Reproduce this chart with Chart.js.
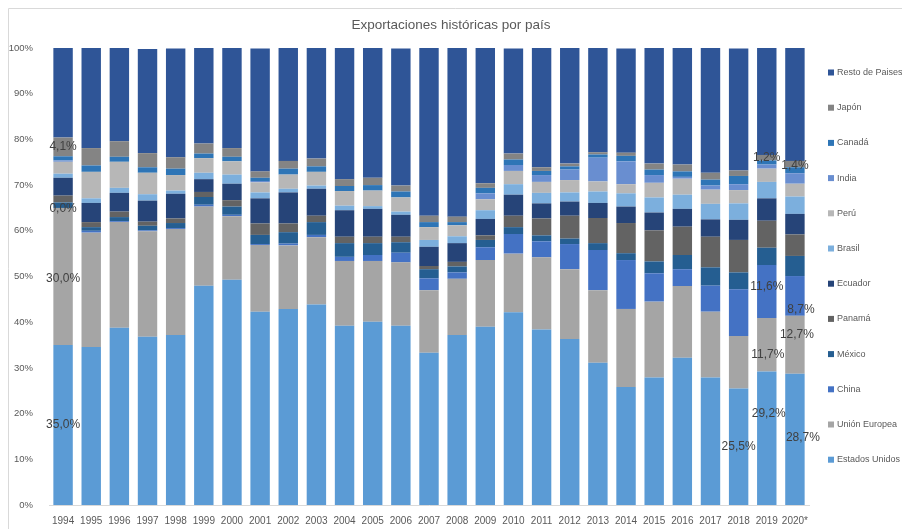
<!DOCTYPE html>
<html lang="es">
<head>
<meta charset="utf-8">
<title>Exportaciones históricas por país</title>
<script src="https://cdn.jsdelivr.net/npm/chart.js@4.4.0/dist/chart.umd.min.js"></script>
<style>
  body { margin: 0; background: #ffffff; }
  canvas { display: block; }
</style>
</head>
<body>
<canvas id="grafico" width="902" height="529"></canvas>
<script>
// años del eje x
const anios = ['1994', '1995', '1996', '1997', '1998', '1999', '2000', '2001', '2002', '2003',
  '2004', '2005', '2006', '2007', '2008', '2009', '2010', '2011', '2012', '2013',
  '2014', '2015', '2016', '2017', '2018', '2019', '2020*'];

// participación (%) de cada destino por año
const estadosUnidos = [35.0, 34.6, 38.8, 36.8, 37.2, 48.0, 49.3, 42.3, 42.9, 43.9, 39.2, 40.1, 39.2, 33.3, 37.2, 39.0, 42.2, 38.4, 36.3, 31.1, 25.8, 27.9, 32.2, 27.9, 25.5, 29.2, 28.7];
const unionEuropea = [30.0, 25.0, 23.1, 23.1, 23.2, 17.3, 13.9, 14.6, 13.9, 14.7, 14.2, 13.3, 13.9, 13.7, 12.3, 14.6, 12.8, 15.8, 15.3, 15.9, 17.1, 16.6, 15.7, 14.4, 11.5, 11.7, 12.7];
const china = [0.0, 0.4, 0.2, 0.2, 0.2, 0.4, 0.3, 0.2, 0.4, 0.5, 0.9, 1.3, 2.1, 2.6, 1.4, 2.8, 4.3, 3.5, 5.5, 8.8, 10.7, 6.2, 3.7, 5.7, 10.2, 11.6, 8.7];
const mexico = [1.2, 0.8, 0.9, 1.0, 1.1, 1.7, 1.8, 2.0, 2.5, 2.8, 3.0, 2.6, 2.3, 2.0, 1.3, 1.6, 1.5, 1.3, 1.2, 1.5, 1.5, 2.6, 3.1, 4.0, 3.7, 3.8, 4.4];
const panama = [1.5, 1.1, 1.2, 0.9, 1.0, 1.1, 1.4, 2.5, 1.9, 1.4, 1.4, 1.4, 1.2, 0.7, 1.0, 1.0, 2.5, 3.7, 5.0, 5.5, 6.6, 6.8, 6.2, 6.7, 7.1, 5.9, 4.7];
const ecuador = [3.9, 4.2, 4.1, 4.6, 5.4, 2.8, 3.6, 5.5, 6.8, 5.9, 5.8, 6.1, 4.8, 4.2, 4.1, 3.6, 4.6, 3.3, 3.1, 3.3, 3.6, 3.9, 3.9, 3.8, 4.4, 4.9, 4.5];
const brasil = [0.9, 1.0, 1.1, 1.4, 0.7, 1.4, 2.0, 1.3, 0.8, 0.7, 1.0, 0.6, 0.7, 1.5, 1.5, 1.9, 2.3, 2.3, 2.0, 2.5, 2.9, 3.3, 3.1, 3.4, 3.6, 3.6, 3.8];
const peru = [2.6, 5.8, 5.7, 4.7, 3.4, 3.2, 2.9, 2.2, 3.1, 3.0, 3.2, 3.4, 3.1, 2.8, 2.4, 2.4, 2.9, 2.4, 2.7, 2.2, 2.0, 3.2, 3.5, 3.1, 2.9, 2.9, 2.8];
const india = [0.3, 0.0, 0.0, 0.0, 0.0, 0.0, 0.0, 0.3, 0.0, 0.0, 0.0, 0.0, 0.0, 0.0, 0.0, 1.3, 1.3, 1.5, 2.3, 5.2, 5.0, 1.7, 0.4, 0.9, 1.3, 0.9, 2.3];
const canada = [0.9, 1.4, 1.1, 1.2, 1.4, 1.0, 1.0, 0.7, 1.3, 1.2, 1.1, 1.2, 1.3, 1.1, 0.7, 1.2, 1.2, 0.9, 0.7, 0.7, 1.2, 1.2, 1.2, 1.3, 1.8, 0.9, 1.3];
const japon = [4.1, 3.8, 3.4, 3.1, 2.5, 2.2, 1.9, 1.4, 1.7, 1.7, 1.5, 1.6, 1.3, 1.4, 1.2, 1.0, 1.3, 0.8, 0.6, 0.5, 0.7, 1.3, 1.5, 1.5, 1.2, 1.2, 1.4];
const restoPaises = [19.6, 21.9, 20.4, 22.8, 23.8, 20.9, 21.9, 26.9, 24.7, 24.3, 28.7, 28.4, 30.0, 36.8, 37.0, 29.6, 23.0, 26.1, 25.4, 22.8, 22.8, 25.4, 25.6, 27.4, 26.7, 23.4, 24.7];

// ticks del eje y
const ticksY = [0, 10, 20, 30, 40, 50, 60, 70, 80, 90, 100];

// etiquetas de datos visibles: [serie, año, dx, dy]
const etiquetas = [
  ['Estados Unidos', '1994', 0, 0], ['Unión Europea', '1994', 0, 2], ['China', '1994', 0, 1], ['Japón', '1994', 0, 0],
  ['Estados Unidos', '2018', 0, 0],
  ['Estados Unidos', '2019', 2, -25], ['Unión Europea', '2019', 1, 10], ['China', '2019', 0, -5], ['Japón', '2019', 0, 0],
  ['Estados Unidos', '2020*', 8, -2], ['Unión Europea', '2020*', 2, -10], ['China', '2020*', 6, 14], ['Japón', '2020*', 0, 2]
];

const fuente = '"Liberation Sans", Arial, sans-serif';

// de abajo hacia arriba, igual que el apilado
const datasets = [
  { label: 'Estados Unidos', data: estadosUnidos, backgroundColor: '#5B9BD5' },
  { label: 'Unión Europea', data: unionEuropea, backgroundColor: '#A5A5A5' },
  { label: 'China', data: china, backgroundColor: '#4472C4' },
  { label: 'México', data: mexico, backgroundColor: '#255E91' },
  { label: 'Panamá', data: panama, backgroundColor: '#636363' },
  { label: 'Ecuador', data: ecuador, backgroundColor: '#264478' },
  { label: 'Brasil', data: brasil, backgroundColor: '#7CAFDD' },
  { label: 'Perú', data: peru, backgroundColor: '#B7B7B7' },
  { label: 'India', data: india, backgroundColor: '#698ED0' },
  { label: 'Canadá', data: canada, backgroundColor: '#2E75B6' },
  { label: 'Japón', data: japon, backgroundColor: '#848484' },
  { label: 'Resto de Paises', data: restoPaises, backgroundColor: '#2F5597' }
];
datasets.forEach(ds => {
  ds.barPercentage = 0.69;
  ds.categoryPercentage = 1;
  ds.borderWidth = 0;
});

// marco, título y leyenda dibujados a mano (como en Excel)
const extrasPlugin = {
  id: 'extras',
  beforeDraw(chart) {
    const ctx = chart.ctx;
    ctx.save();
    ctx.strokeStyle = '#D9D9D9';
    ctx.lineWidth = 1;
    ctx.beginPath();
    ctx.moveTo(8.5, 529);
    ctx.lineTo(8.5, 8.5);
    ctx.lineTo(902, 8.5);
    ctx.stroke();
    ctx.restore();
  },
  afterDraw(chart) {
    const ctx = chart.ctx;
    ctx.save();
    ctx.fillStyle = '#595959';
    ctx.font = '13.5px ' + fuente;
    ctx.textAlign = 'center';
    ctx.textBaseline = 'middle';
    ctx.fillText('Exportaciones históricas por país', 451, 25);

    ctx.font = '9px ' + fuente;
    ctx.textAlign = 'left';
    const items = chart.data.datasets.slice().reverse();
    items.forEach((ds, i) => {
      const y = 72.5 + i * 35.2;
      ctx.fillStyle = ds.backgroundColor;
      ctx.fillRect(828, y - 3, 6, 6);
      ctx.fillStyle = '#595959';
      ctx.fillText(ds.label, 837, y);
    });
    ctx.restore();
  }
};

// etiquetas de datos sobre algunos segmentos
const etiquetasPlugin = {
  id: 'etiquetas',
  afterDatasetsDraw(chart) {
    const ctx = chart.ctx;
    ctx.save();
    ctx.font = '12px ' + fuente;
    ctx.fillStyle = '#404040';
    ctx.textAlign = 'center';
    ctx.textBaseline = 'middle';
    etiquetas.forEach(([serie, anio, dx, dy]) => {
      const idx = chart.data.datasets.findIndex(d => d.label === serie);
      const i = anios.indexOf(anio);
      const bar = chart.getDatasetMeta(idx).data[i];
      const p = bar.getCenterPoint();
      const valor = chart.data.datasets[idx].data[i];
      ctx.fillText(valor.toFixed(1).replace('.', ',') + '%', p.x + dx, p.y + dy);
    });
    ctx.restore();
  }
};

new Chart(document.getElementById('grafico'), {
  type: 'bar',
  data: { labels: anios, datasets: datasets },
  options: {
    responsive: false,
    animation: false,
    layout: { padding: { top: 48, left: 9, right: 93, bottom: 0 } },
    plugins: {
      legend: { display: false },
      title: { display: false },
      tooltip: { enabled: false }
    },
    scales: {
      x: {
        stacked: true,
        grid: { display: false },
        border: { display: true, color: '#D9D9D9' },
        ticks: { color: '#595959', font: { size: 10, family: fuente }, padding: 2, maxRotation: 0, autoSkip: false },
        afterFit: s => { s.height = 24; }
      },
      y: {
        stacked: true,
        min: 0,
        max: 100,
        grid: { display: false },
        border: { display: false },
        afterBuildTicks: s => { s.ticks = ticksY.map(v => ({ value: v })); },
        ticks: {
          color: '#595959',
          font: { size: 9.5, family: fuente },
          padding: 8,
          callback: v => v + '%'
        },
        afterFit: s => { s.width = 40; }
      }
    }
  },
  plugins: [extrasPlugin, etiquetasPlugin]
});
</script>
</body>
</html>
